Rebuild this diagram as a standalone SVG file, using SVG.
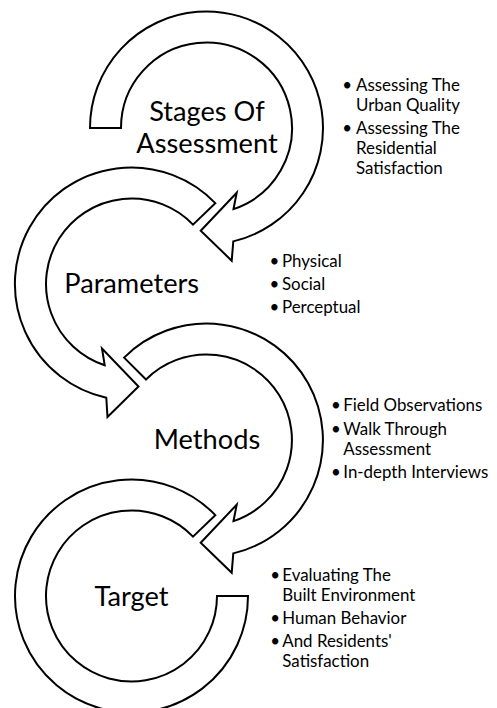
<svg xmlns="http://www.w3.org/2000/svg" width="497" height="708" viewBox="0 0 497 708">
<style>
.arrow{fill:#fff;stroke:#000;stroke-width:2;stroke-linejoin:miter}
.lbl{font-family:Lato,"Liberation Sans",sans-serif;font-size:27.2px;fill:#000;text-anchor:middle}
.bul{font-family:Lato,"Liberation Sans",sans-serif;font-size:16.9px;fill:#000}
.dot{font-family:Lato,"Liberation Sans",sans-serif;font-size:16.9px;fill:#000;text-anchor:middle}
</style>
<rect width="497" height="708" fill="#fff"/>
<g id="node-target">
<path class="arrow" d="M215.3,515.1 A116.5,116.5 0 1 0 248,596 L217,596 A85.5,85.5 0 1 1 193,536.6 Z"/>
<text class="lbl" x="131.5" y="605.5">Target</text>
<g class="bullets">
<text class="dot" x="275.2" y="580.7">•</text>
<text class="bul" x="282.3" y="580.7">Evaluating The</text>
<text class="bul" x="282.3" y="600.7">Built Environment</text>
<text class="dot" x="275.2" y="624">•</text>
<text class="bul" x="282.3" y="624">Human Behavior</text>
<text class="dot" x="275.2" y="646.7">•</text>
<text class="bul" x="282.3" y="646.7">And Residents'</text>
<text class="bul" x="282.3" y="666.7">Satisfaction</text>
</g>
</g>
<g id="node-methods">
<path class="arrow" d="M124.1,357.6 A116.5,116.5 0 1 1 233.3,553.4 L231.7,572.7 L200.7,542.7 L236.7,504.7 L233.5,521.1 A85.5,85.5 0 1 0 146,379.5 Z"/>
<text class="lbl" x="207" y="449.3">Methods</text>
<g class="bullets">
<text class="dot" x="335.8" y="410.7">•</text>
<text class="bul" x="343.3" y="410.7">Field Observations</text>
<text class="dot" x="335.8" y="435">•</text>
<text class="bul" x="343.3" y="435">Walk Through</text>
<text class="bul" x="343.3" y="455">Assessment</text>
<text class="dot" x="335.8" y="478.3">•</text>
<text class="bul" x="343.3" y="478.3">In-depth Interviews</text>
</g>
</g>
<g id="node-parameters">
<path class="arrow" d="M215.3,203.1 A116.5,116.5 0 1 0 106.3,397.7 L107.5,417 L138.5,386.5 L102,348.5 L104.7,365.2 A85.5,85.5 0 1 1 193,224.6 Z"/>
<text class="lbl" x="131.7" y="293.3">Parameters</text>
<g class="bullets">
<text class="dot" x="274.5" y="266.7">•</text>
<text class="bul" x="282" y="266.7">Physical</text>
<text class="dot" x="274.5" y="290">•</text>
<text class="bul" x="282" y="290">Social</text>
<text class="dot" x="274.5" y="313">•</text>
<text class="bul" x="282" y="313">Perceptual</text>
</g>
</g>
<g id="node-stages">
<path class="arrow" d="M90,128 A116.5,116.5 0 1 1 233.3,241.4 L231.7,260.7 L200.7,230.7 L236.7,192.7 L233.5,209.1 A85.5,85.5 0 1 0 121,128 Z"/>
<text class="lbl" x="207" y="120.7">Stages Of</text>
<text class="lbl" x="207" y="153.3">Assessment</text>
<g class="bullets">
<text class="dot" x="347.2" y="90.7">•</text>
<text class="bul" x="356" y="90.7">Assessing The</text>
<text class="bul" x="356" y="110.7">Urban Quality</text>
<text class="dot" x="347.2" y="134">•</text>
<text class="bul" x="356" y="134">Assessing The</text>
<text class="bul" x="356" y="154">Residential</text>
<text class="bul" x="356" y="174.3">Satisfaction</text>
</g>
</g>
</svg>
